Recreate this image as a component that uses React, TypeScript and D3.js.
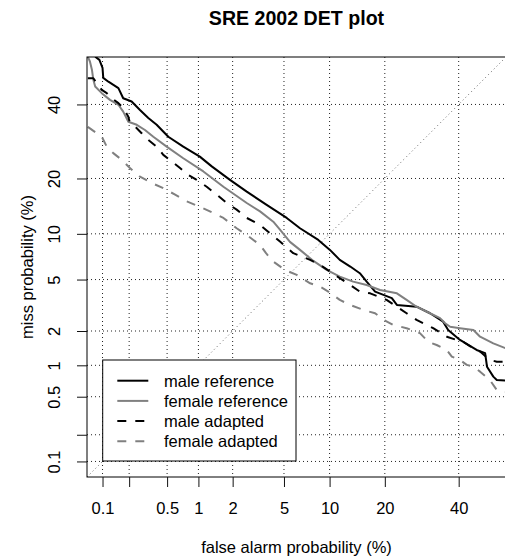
import React, { useEffect, useRef } from 'react';
import * as d3 from 'd3';

// axis range in percent (probit scale, R style 4% extension)
const axisLimits = [0.1, 50];
const tickValues = [0.1, 0.2, 0.5, 1, 2, 5, 10, 20, 40];
const tickLabels = ['0.1', '', '0.5', '1', '2', '5', '10', '20', '40'];
const seriesNames = ['male reference', 'female reference', 'male adapted', 'female adapted'];

// values in percent: false alarm / miss
const maleRefFA = [0.082, 0.092, 0.1, 0.102, 0.117, 0.152, 0.172, 0.213, 0.262, 0.321, 0.392, 0.514, 0.72, 1.03, 1.32, 1.9, 2.61, 3.73, 5.23, 6.46, 8.51, 10.05, 11.5, 13.2, 14.9, 16.2, 17.9, 21.6, 22.8, 27.8, 31.5, 35.3, 36.8, 40.4, 45.6, 48.3, 48.9, 50.9, 52.0, 54.9];
const maleRefMiss = [55, 54.0, 51.5, 48.3, 47.1, 45.1, 41.9, 40.9, 38.3, 35.9, 33.9, 30.5, 27.8, 25.2, 22.8, 19.7, 17.2, 14.65, 12.4, 10.8, 9.18, 7.94, 6.83, 6.16, 5.54, 4.83, 4.09, 3.65, 3.24, 3.14, 2.79, 2.39, 2.04, 1.68, 1.375, 1.29, 0.97, 0.784, 0.729, 0.72];

const femaleRefFA = [0.067, 0.071, 0.075, 0.078, 0.082, 0.098, 0.122, 0.152, 0.172, 0.196, 0.242, 0.296, 0.362, 0.495, 0.72, 1.11, 1.67, 2.61, 3.32, 4.18, 4.68, 5.51, 6.46, 7.92, 9.6, 11.5, 13.7, 16.2, 18.95, 22.8, 25.2, 27.8, 31.5, 34.4, 35.9, 37.4, 40.4, 44.6, 46.7, 50.9, 54.9];
const femaleRefMiss = [55, 53.5, 50.9, 47.7, 45.6, 43.5, 41.4, 39.9, 37.8, 34.8, 33.9, 32.4, 30.5, 27.8, 24.8, 21.6, 18.2, 15.0, 13.5, 11.8, 10.6, 8.92, 7.94, 6.72, 5.84, 5.25, 4.83, 4.57, 4.2, 3.97, 3.54, 3.14, 2.79, 2.55, 2.32, 2.17, 2.11, 2.04, 1.79, 1.57, 1.42];

const maleAdaFA = [0.067, 0.078, 0.086, 0.098, 0.112, 0.128, 0.152, 0.172, 0.196, 0.204, 0.232, 0.273, 0.321, 0.392, 0.458, 0.555, 0.67, 0.804, 0.964, 1.19, 1.46, 1.78, 2.16, 2.61, 3.32, 3.95, 4.68, 5.81, 7.54, 8.72, 10.05, 11.5, 13.2, 14.9, 16.9, 20.4, 22.8, 25.2, 27.8, 32.4, 36.4, 39.4, 41.4, 44.6, 46.7, 49.8, 52.0, 54.9];
const maleAdaMiss = [48.2, 48.2, 46.6, 44.5, 43.5, 41.9, 40.4, 38.9, 36.3, 34.4, 33.4, 31.5, 29.6, 27.8, 25.65, 24.0, 22.4, 20.8, 19.7, 18.2, 16.6, 15.0, 13.8, 12.4, 11.3, 10.1, 8.96, 7.56, 6.83, 6.32, 5.69, 5.11, 4.57, 4.09, 3.97, 3.54, 3.14, 2.79, 2.47, 2.11, 1.79, 1.68, 1.62, 1.42, 1.33, 1.12, 1.08, 1.08];

const femaleAdaFA = [0.067, 0.098, 0.112, 0.133, 0.166, 0.204, 0.262, 0.348, 0.458, 0.6, 0.777, 1.03, 1.27, 1.67, 2.16, 2.61, 3.32, 3.69, 4.18, 5.08, 6.14, 7.54, 8.72, 9.82, 11.5, 13.2, 15.6, 17.9, 19.7, 21.9, 25.2, 28.7, 31.0, 33.4, 36.4, 37.9, 40.4, 42.5, 44.6, 46.7, 49.8, 52.0, 54.9];
const femaleAdaMiss = [33.3, 30.5, 27.8, 26.1, 24.4, 22.4, 20.4, 19.0, 17.9, 16.6, 15.3, 14.3, 13.5, 12.4, 10.8, 9.85, 8.54, 7.56, 6.65, 5.84, 5.39, 4.7, 4.45, 4.09, 3.54, 3.24, 2.96, 2.79, 2.47, 2.25, 2.11, 1.92, 1.62, 1.52, 1.375, 1.2, 1.12, 1.01, 0.97, 0.873, 0.729, 0.583, 0.561];

// inverse normal cdf (Acklam)
function qnorm(p: number) {
  const a = [-39.69683028665376, 220.9460984245205, -275.9285104469687, 138.357751867269, -30.66479806614716, 2.506628277459239];
  const b = [-54.47609879822406, 161.5858368580409, -155.6989798598866, 66.80131188771972, -13.28068155288572];
  const c = [-0.007784894002430293, -0.3223964580411365, -2.400758277161838, -2.549732539343734, 4.374664141464968, 2.938163982698783];
  const d = [0.007784695709041462, 0.3224671290700398, 2.445134137142996, 3.754408661907416];
  const pl = 0.02425;
  if (p < pl) {
    const q = Math.sqrt(-2 * Math.log(p));
    return (((((c[0] * q + c[1]) * q + c[2]) * q + c[3]) * q + c[4]) * q + c[5]) / ((((d[0] * q + d[1]) * q + d[2]) * q + d[3]) * q + 1);
  }
  if (p <= 1 - pl) {
    const q = p - 0.5, r = q * q;
    return (((((a[0] * r + a[1]) * r + a[2]) * r + a[3]) * r + a[4]) * r + a[5]) * q / (((((b[0] * r + b[1]) * r + b[2]) * r + b[3]) * r + b[4]) * r + 1);
  }
  const q = Math.sqrt(-2 * Math.log(1 - p));
  return -(((((c[0] * q + c[1]) * q + c[2]) * q + c[3]) * q + c[4]) * q + c[5]) / ((((d[0] * q + d[1]) * q + d[2]) * q + d[3]) * q + 1);
}

const FONT = 'Liberation Sans, Arial, Helvetica, sans-serif';

const App = () => {
  const ref = useRef<SVGSVGElement>(null);

  useEffect(() => {
    const svg = d3.select(ref.current);
    svg.selectAll('*').remove();

    const left = 87, right = 506, top = 57, bottom = 477;
    const lo = qnorm(axisLimits[0] / 100);
    const hi = qnorm(axisLimits[1] / 100);
    const ext = 0.04 * (hi - lo);

    const x = d3.scaleLinear().domain([lo - ext, hi + ext]).range([left, right]);
    const y = d3.scaleLinear().domain([lo - ext, hi + ext]).range([bottom, top]);
    const px = (v: number) => x(qnorm(v / 100));
    const py = (v: number) => y(qnorm(v / 100));

    svg.append('defs').append('clipPath').attr('id', 'plotclip')
      .append('rect').attr('x', left).attr('y', top)
      .attr('width', right - left).attr('height', bottom - top);

    // grid
    const grid = svg.append('g');
    tickValues.forEach(v => {
      grid.append('line').attr('x1', px(v)).attr('x2', px(v)).attr('y1', top).attr('y2', bottom)
        .attr('stroke', '#222').attr('stroke-dasharray', '1 3');
      grid.append('line').attr('y1', py(v)).attr('y2', py(v)).attr('x1', left).attr('x2', right)
        .attr('stroke', '#222').attr('stroke-dasharray', '1 3');
    });
    // diagonal
    grid.append('line')
      .attr('x1', x(lo - ext)).attr('y1', y(lo - ext))
      .attr('x2', x(hi + ext)).attr('y2', y(hi + ext))
      .attr('stroke', '#666').attr('stroke-dasharray', '1 3');

    const series = [
      { fa: maleRefFA, miss: maleRefMiss, color: '#000', dash: null },
      { fa: femaleRefFA, miss: femaleRefMiss, color: '#808080', dash: null },
      { fa: maleAdaFA, miss: maleAdaMiss, color: '#000', dash: '9 9' },
      { fa: femaleAdaFA, miss: femaleAdaMiss, color: '#808080', dash: '9 9' },
    ];

    const line = d3.line<[number, number]>().x(d => px(d[0])).y(d => py(d[1]));

    const curves = svg.append('g').attr('clip-path', 'url(#plotclip)');
    series.forEach(s => {
      const pts = s.fa.map((f, i) => [f, s.miss[i]] as [number, number]);
      curves.append('path')
        .attr('d', line(pts))
        .attr('fill', 'none')
        .attr('stroke', s.color)
        .attr('stroke-width', 2)
        .attr('stroke-dasharray', s.dash)
        .attr('stroke-linejoin', 'round');
    });

    // plot box
    svg.append('rect').attr('x', left).attr('y', top)
      .attr('width', right - left).attr('height', bottom - top)
      .attr('fill', 'none').attr('stroke', '#000');

    const probitTicks = tickValues.map(v => qnorm(v / 100));

    // x axis
    const gx = svg.append('g').attr('transform', `translate(0,${bottom})`)
      .call(d3.axisBottom(x).tickValues(probitTicks).tickFormat((d, i) => tickLabels[i]).tickSize(10).tickSizeOuter(0));
    gx.select('.domain').remove();
    gx.selectAll('line').attr('stroke', '#111');
    gx.selectAll('text').attr('y', 37).attr('dy', null)
      .style('font-family', FONT).style('font-size', '16.5px').attr('fill', '#000');

    // y axis
    const gy = svg.append('g').attr('transform', `translate(${left},0)`)
      .call(d3.axisLeft(y).tickValues(probitTicks).tickFormat((d, i) => tickLabels[i]).tickSize(10).tickSizeOuter(0));
    gy.select('.domain').remove();
    gy.selectAll('line').attr('stroke', '#111');
    gy.selectAll('text').attr('x', 0).attr('y', -27.5).attr('dy', null)
      .attr('transform', 'rotate(-90)').attr('text-anchor', 'middle')
      .style('font-family', FONT).style('font-size', '16.5px').attr('fill', '#000');

    // titles
    svg.append('text').attr('x', (left + right) / 2).attr('y', 25)
      .attr('text-anchor', 'middle').style('font-family', FONT)
      .style('font-size', '19.6px').style('font-weight', 'bold')
      .text('SRE 2002 DET plot');

    svg.append('text').attr('x', (left + right) / 2).attr('y', 553)
      .attr('text-anchor', 'middle').style('font-family', FONT).style('font-size', '16.5px')
      .text('false alarm probability (%)');

    svg.append('text')
      .attr('transform', `translate(32.5,${(top + bottom) / 2}) rotate(-90)`)
      .attr('text-anchor', 'middle').style('font-family', FONT).style('font-size', '16.5px')
      .text('miss probability (%)');

    // legend
    const lg = svg.append('g');
    lg.append('rect').attr('x', 102.7).attr('y', 360).attr('width', 193.3).attr('height', 101)
      .attr('fill', '#fff').attr('stroke', '#000');
    series.forEach((s, i) => {
      const ly = 380.7 + i * 20.2;
      lg.append('line').attr('x1', 117.3).attr('x2', 148.3).attr('y1', ly).attr('y2', ly)
        .attr('stroke', s.color).attr('stroke-width', 2).attr('stroke-dasharray', s.dash);
      lg.append('text').attr('x', 164).attr('y', ly + 6)
        .style('font-family', FONT).style('font-size', '16.5px')
        .text(seriesNames[i]);
    });
  }, []);

  return (
    <svg ref={ref} width={505} height={558}
      style={{ position: 'absolute', left: 0, top: 0, background: '#fff' }} />
  );
};

export default App;
